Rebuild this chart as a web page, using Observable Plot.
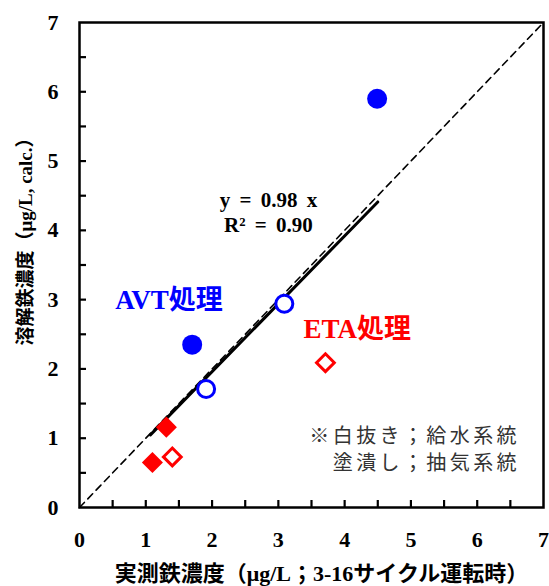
<!DOCTYPE html>
<html>
<head>
<meta charset="utf-8">
<script src="https://cdn.jsdelivr.net/npm/d3@7"></script>
<script src="https://cdn.jsdelivr.net/npm/@observablehq/plot@0.6"></script>
<style>
  html, body { margin: 0; padding: 0; background: #fff; }
</style>
</head>
<body>
<div id="chart"></div>
<script>
// ---- data ----
const treatments = ["AVT", "AVT", "AVT", "AVT", "ETA", "ETA", "ETA", "ETA"];
const systems    = ["抽気", "抽気", "給水", "給水", "抽気", "抽気", "給水", "給水"];
const measured   = [4.49, 1.70, 1.91, 3.09, 1.31, 1.10, 1.40, 3.71];
const calculated = [5.90, 2.35, 1.71, 2.94, 1.16, 0.65, 0.73, 2.09];

const axisDomain = [0, 7];
const majorTicks = [0, 1, 2, 3, 4, 5, 6, 7];
const minorTicks = [0.5, 1, 1.5, 2, 2.5, 3, 3.5, 4, 4.5, 5, 5.5, 6, 6.5];

const fitSlope = 0.98;
const fitR2 = 0.90;
const fitRange = [1.07, 4.5];

const xLabel = "実測鉄濃度（μg/L；3-16サイクル運転時）";
const yLabel = "溶解鉄濃度（μg/L, calc.）";
const noteLines = ["※白抜き；給水系統", "塗潰し；抽気系統"];

const colors = {AVT: "#0000ff", ETA: "#ff0000"};

const pts = treatments.map((t, i) => ({
  t, sys: systems[i], x: measured[i], y: calculated[i]
}));
const sel = (t, s) => pts.filter(d => d.t === t && d.sys === s);

const serif = "'Liberation Serif', 'Times New Roman', 'Noto Sans CJK JP', serif";
const cjk = "'Noto Sans CJK JP', sans-serif";

// layout
const W = 549, H = 586, mL = 79, mR = 6, mT = 22, mB = 79;
const frameW = W - mL - mR, frameH = H - mT - mB;
const tickLen = 7;
const span = axisDomain[1] - axisDomain[0];
const tickLenX = tickLen * span / frameW;   // tick length in x-units
const tickLenY = tickLen * span / frameH;   // tick length in y-units

const chart = Plot.plot({
  width: W,
  height: H,
  marginLeft: mL,
  marginRight: mR,
  marginTop: mT,
  marginBottom: mB,
  style: {fontFamily: serif, background: "#fff", color: "#000"},
  x: {domain: axisDomain},
  y: {domain: axisDomain},
  marks: [
    // tick labels
    Plot.axisX({ticks: majorTicks, tickSize: 0, tickPadding: 24, tickFormat: d => String(d),
      fontSize: 22, fontWeight: "bold", label: null}),
    Plot.axisY({ticks: majorTicks, tickSize: 0, tickPadding: 21, tickFormat: d => String(d),
      fontSize: 22, fontWeight: "bold", label: null}),
    // inside tick marks
    Plot.ruleX(minorTicks, {x: d => d, y1: axisDomain[0], y2: axisDomain[0] + tickLenY, stroke: "#000", strokeWidth: 2.2}),
    Plot.ruleY(minorTicks, {y: d => d, x1: axisDomain[0], x2: axisDomain[0] + tickLenX, stroke: "#000", strokeWidth: 2.2}),
    // 1:1 line
    Plot.line(axisDomain, {x: d => d, y: d => d, stroke: "#000", strokeWidth: 1.6, strokeDasharray: "7,5"}),
    // regression line
    Plot.line(fitRange, {x: d => d, y: d => fitSlope * d, stroke: "#000", strokeWidth: 3}),
    // points: filled (抽気)
    Plot.dot(sel("AVT", "抽気"), {x: "x", y: "y", symbol: "circle", r: 10, fill: colors.AVT, stroke: null}),
    Plot.dot(sel("ETA", "抽気"), {x: "x", y: "y", symbol: "diamond2", r: 9.5, fill: colors.ETA, stroke: null}),
    // points: hollow (給水)
    Plot.dot(sel("AVT", "給水"), {x: "x", y: "y", symbol: "circle", r: 8.5, fill: "#fff", stroke: colors.AVT, strokeWidth: 3}),
    Plot.dot(sel("ETA", "給水"), {x: "x", y: "y", symbol: "diamond2", r: 8, fill: "#fff", stroke: colors.ETA, strokeWidth: 3}),
    // annotations
    Plot.text([`y = ${fitSlope.toFixed(2)} x`], {x: 2.85, y: 4.43, fontSize: 21, fontWeight: "bold", fontFamily: serif}),
    Plot.text([`R² = ${fitR2.toFixed(2)}`], {x: 2.85, y: 4.08, fontSize: 21, fontWeight: "bold", fontFamily: serif}),
    Plot.text(["AVT処理"], {x: 0.54, y: 2.99, textAnchor: "start", fontSize: 27, fontWeight: "bold", fill: colors.AVT, fontFamily: serif}),
    Plot.text(["ETA処理"], {x: 3.38, y: 2.57, textAnchor: "start", fontSize: 27, fontWeight: "bold", fill: colors.ETA, fontFamily: serif}),
    Plot.text([noteLines[0]], {x: 6.645, y: 1.025, textAnchor: "end", fontSize: 20, fill: "#333", fontFamily: cjk}),
    Plot.text([noteLines[1]], {x: 6.645, y: 0.635, textAnchor: "end", fontSize: 20, fill: "#333", fontFamily: cjk}),
    // axis titles
    Plot.text([xLabel], {frameAnchor: "bottom", textAnchor: "middle", lineAnchor: "middle", dx: 10, dy: 66, fontSize: 22, fontWeight: "bold", fontFamily: serif}),
    Plot.text([yLabel], {frameAnchor: "left", textAnchor: "middle", lineAnchor: "middle", dx: -54, dy: -28, rotate: -90, fontSize: 19, fontWeight: "bold", fontFamily: serif}),
    Plot.frame({stroke: "#000", strokeWidth: 2.5})
  ]
});
d3.select(chart).selectAll("text")
  .filter(function() { return noteLines.includes(this.textContent); })
  .style("letter-spacing", "3.4px");
d3.select(chart).selectAll("text")
  .filter(function() { return this.textContent.startsWith("y =") || this.textContent.startsWith("R²"); })
  .style("word-spacing", "4px");
document.getElementById("chart").appendChild(chart);
</script>
</body>
</html>
